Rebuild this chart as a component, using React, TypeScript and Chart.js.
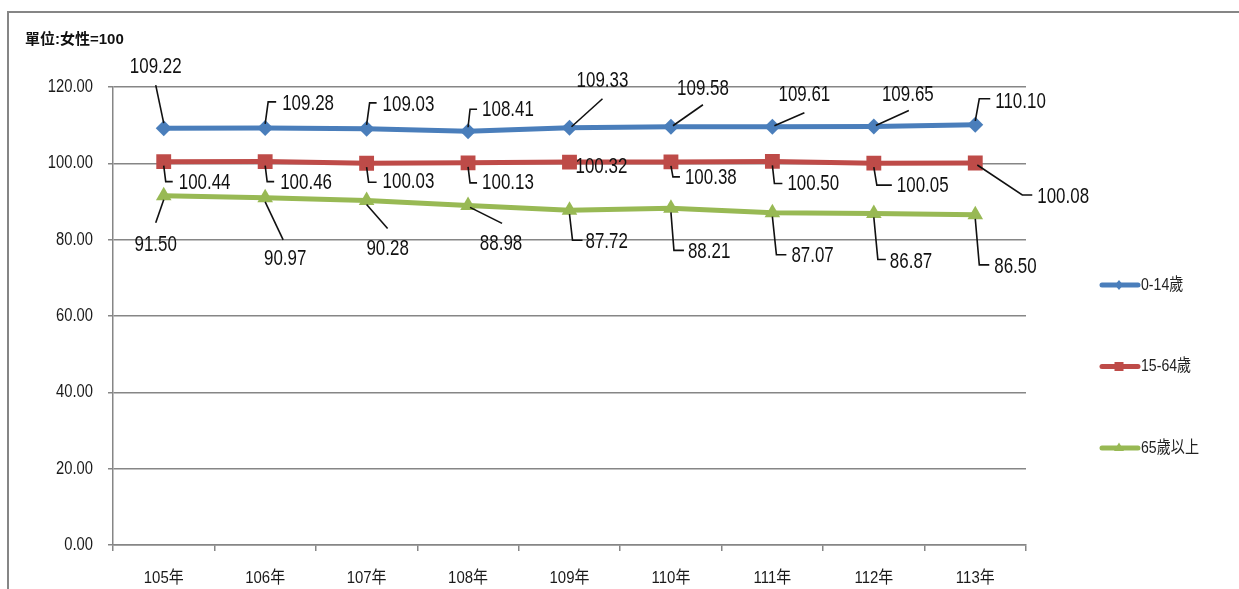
import { useEffect, useRef } from "react";
import { Chart, registerables } from "chart.js";

Chart.register(...registerables);

const categories = ["105年", "106年", "107年", "108年", "109年", "110年", "111年", "112年", "113年"];
const seriesNames = ["0-14歲", "15-64歲", "65歲以上"];
const ages0to14 = [109.22, 109.28, 109.03, 108.41, 109.33, 109.58, 109.61, 109.65, 110.1];
const ages15to64 = [100.44, 100.46, 100.03, 100.13, 100.32, 100.38, 100.5, 100.05, 100.08];
const ages65plus = [91.5, 90.97, 90.28, 88.98, 87.72, 88.21, 87.07, 86.87, 86.5];
const yMin = 0;
const yMax = 120;
const yStep = 20;
const unitLabel = "單位:女性=100";

const colors = ["#4A7EBB", "#BE4B48", "#98B954"];
const pointStyles = ["rectRot", "rect", "triangle"];
const pointRadii = [8, 10.5, 9];

const FONT = '"Liberation Sans", Arial, "Noto Sans CJK TC", sans-serif';
const GRID = "#868686";

type LabelLayout = { dx: number; dy: number; align: "left" | "center"; path: number[][] };

// label placement relative to each data point (layout only)
const labelLayouts: LabelLayout[][] = [
  [
    { dx: -8, dy: -61, align: "center", path: [[0, -5], [-8, -43]] },
    { dx: 17, dy: -24, align: "left", path: [[0, -4], [3, -26], [11, -26]] },
    { dx: 16, dy: -24, align: "left", path: [[0, -4], [3, -26], [10, -26]] },
    { dx: 14, dy: -21, align: "left", path: [[0, -4], [2, -22], [9, -22]] },
    { dx: 33, dy: -47, align: "center", path: [[2, -1], [33, -29]] },
    { dx: 32, dy: -38, align: "center", path: [[2, -1], [32, -22]] },
    { dx: 32, dy: -32, align: "center", path: [[2, -1], [32, -14]] },
    { dx: 34, dy: -32, align: "center", path: [[2, -1], [35, -16]] },
    { dx: 20, dy: -23, align: "left", path: [[0, -4], [4, -26], [15, -26]] },
  ],
  [
    { dx: 15, dy: 21, align: "left", path: [[0, 4], [2, 20], [9, 20]] },
    { dx: 15, dy: 21, align: "left", path: [[0, 4], [2, 20], [9, 20]] },
    { dx: 16, dy: 19, align: "left", path: [[0, 4], [2, 19], [10, 19]] },
    { dx: 14, dy: 20, align: "left", path: [[0, 4], [2, 20], [9, 20]] },
    { dx: 6, dy: 5, align: "left", path: [] },
    { dx: 14, dy: 16, align: "left", path: [[0, 4], [2, 15], [9, 15]] },
    { dx: 15, dy: 23, align: "left", path: [[0, 4], [2, 22], [10, 22]] },
    { dx: 23, dy: 23, align: "left", path: [[0, 4], [3, 22], [18, 22]] },
    { dx: 62, dy: 34, align: "left", path: [[2, 2], [47, 32], [57, 32]] },
  ],
  [
    { dx: -8, dy: 49, align: "center", path: [[0, 4], [-8, 27]] },
    { dx: 20, dy: 61, align: "center", path: [[0, 4], [18, 42]] },
    { dx: 21, dy: 49, align: "center", path: [[0, 4], [21, 28]] },
    { dx: 33, dy: 39, align: "center", path: [[2, 2], [34, 18]] },
    { dx: 16, dy: 32, align: "left", path: [[0, 4], [3, 30], [13, 30]] },
    { dx: 17, dy: 44, align: "left", path: [[0, 4], [3, 42], [13, 42]] },
    { dx: 19, dy: 43, align: "left", path: [[0, 4], [4, 42], [14, 42]] },
    { dx: 16, dy: 48, align: "left", path: [[0, 4], [4, 46], [12, 46]] },
    { dx: 19, dy: 52, align: "left", path: [[0, 4], [4, 50], [14, 50]] },
  ],
];

function narrowText(
  ctx: CanvasRenderingContext2D,
  text: string,
  x: number,
  y: number,
  align: CanvasTextAlign,
  scale: number
) {
  ctx.save();
  ctx.translate(x, y);
  ctx.scale(scale, 1);
  ctx.textAlign = align;
  ctx.textBaseline = "middle";
  ctx.fillText(text, 0, 0);
  ctx.restore();
}

function drawMarker(ctx: CanvasRenderingContext2D, style: string, x: number, y: number, r: number) {
  ctx.beginPath();
  if (style === "rectRot") {
    ctx.moveTo(x, y - r);
    ctx.lineTo(x + r * 0.8, y);
    ctx.lineTo(x, y + r);
    ctx.lineTo(x - r * 0.8, y);
  } else if (style === "rect") {
    ctx.rect(x - r, y - r, 2 * r, 2 * r);
  } else {
    ctx.moveTo(x, y - r * 1.1);
    ctx.lineTo(x + r, y + r * 0.6);
    ctx.lineTo(x - r, y + r * 0.6);
  }
  ctx.closePath();
  ctx.fill();
}

const decorPlugin = {
  id: "decor",
  afterDatasetsDraw(chart: any) {
    const ctx: CanvasRenderingContext2D = chart.ctx;
    ctx.save();
    ctx.font = `22px ${FONT}`;
    ctx.fillStyle = "#111";
    ctx.strokeStyle = "#111";
    ctx.lineWidth = 1.6;
    chart.data.datasets.forEach((ds: any, di: number) => {
      const meta = chart.getDatasetMeta(di);
      meta.data.forEach((pt: any, i: number) => {
        const lay = labelLayouts[di][i];
        const v = ds.data[i] as number;
        if (lay.path.length > 1) {
          ctx.beginPath();
          lay.path.forEach((p, k) => {
            if (k === 0) ctx.moveTo(pt.x + p[0], pt.y + p[1]);
            else ctx.lineTo(pt.x + p[0], pt.y + p[1]);
          });
          ctx.stroke();
        }
        narrowText(ctx, v.toFixed(2), pt.x + lay.dx, pt.y + lay.dy, lay.align, 0.77);
      });
    });
    ctx.restore();
  },
  afterDraw(chart: any) {
    const ctx: CanvasRenderingContext2D = chart.ctx;
    const W = chart.width;
    const H = chart.height;
    const xs = chart.scales.x;
    const ys = chart.scales.y;
    ctx.save();
    // frame
    ctx.strokeStyle = GRID;
    ctx.lineWidth = 2;
    ctx.beginPath();
    ctx.moveTo(8, H + 2);
    ctx.lineTo(8, 12);
    ctx.lineTo(W + 2, 12);
    ctx.stroke();
    // axis tick labels
    ctx.fillStyle = "#1a1a1a";
    ctx.font = `18px ${FONT}`;
    for (let v = yMin; v <= yMax; v += yStep) {
      narrowText(ctx, v.toFixed(2), ys.left + ys.width - 20, ys.getPixelForValue(v), "right", 0.82);
    }
    ctx.font = `17px ${FONT}`;
    categories.forEach((c, i) => {
      narrowText(ctx, c, xs.getPixelForValue(i), xs.top + 33, "center", 0.88);
    });
    // unit label
    ctx.fillStyle = "#111";
    ctx.font = `bold 15px ${FONT}`;
    narrowText(ctx, unitLabel, 25, 40, "left", 1);
    // legend
    const lx = chart.chartArea.right + 74;
    chart.data.datasets.forEach((ds: any, di: number) => {
      const y = 285 + di * 81.5;
      ctx.strokeStyle = ds.borderColor;
      ctx.fillStyle = ds.borderColor;
      ctx.lineWidth = 5;
      ctx.lineCap = "round";
      ctx.beginPath();
      ctx.moveTo(lx + 2, y);
      ctx.lineTo(lx + 38, y);
      ctx.stroke();
      drawMarker(ctx, pointStyles[di], lx + 19, y, di === 1 ? 4.5 : 5);
      ctx.fillStyle = "#222";
      ctx.font = `17px ${FONT}`;
      narrowText(ctx, ds.label, lx + 41, y, "left", 0.83);
    });
    ctx.restore();
  },
};

export default function App() {
  const ref = useRef<HTMLCanvasElement | null>(null);
  useEffect(() => {
    if (!ref.current) return;
    const seriesValues = [ages0to14, ages15to64, ages65plus];
    const chart = new Chart(ref.current, {
      type: "line",
      data: {
        labels: categories,
        datasets: seriesValues.map((vals, i) => ({
          label: seriesNames[i],
          data: vals,
          borderColor: colors[i],
          backgroundColor: colors[i],
          borderWidth: 5,
          pointStyle: pointStyles[i] as any,
          pointRadius: pointRadii[i],
          pointBorderWidth: 0,
          pointBackgroundColor: colors[i],
          tension: 0,
        })),
      },
      options: {
        animation: false,
        responsive: true,
        maintainAspectRatio: false,
        layout: { padding: { top: 87, right: 213, left: 0, bottom: 0 } },
        plugins: { legend: { display: false }, tooltip: { enabled: false }, title: { display: false } },
        events: [],
        scales: {
          x: {
            type: "category",
            offset: true,
            grid: { offset: true, drawOnChartArea: false, drawTicks: true, tickLength: 6, color: GRID, lineWidth: 1.5 },
            border: { display: true, color: GRID, width: 1.5 },
            ticks: { display: false, autoSkip: false },
            afterFit: (s: any) => {
              s.height = 44;
            },
          },
          y: {
            min: yMin,
            max: yMax,
            ticks: { display: false, stepSize: yStep },
            grid: { color: GRID, lineWidth: 1.5, tickLength: 5, drawTicks: true },
            border: { display: true, color: GRID, width: 1.5 },
            afterFit: (s: any) => {
              s.width = 113;
            },
          },
        },
      },
      plugins: [decorPlugin],
    });
    return () => chart.destroy();
  }, []);
  return (
    <div style={{ position: "absolute", left: 0, top: 0, width: 1239, height: 589, background: "#fff" }}>
      <canvas ref={ref} />
    </div>
  );
}
